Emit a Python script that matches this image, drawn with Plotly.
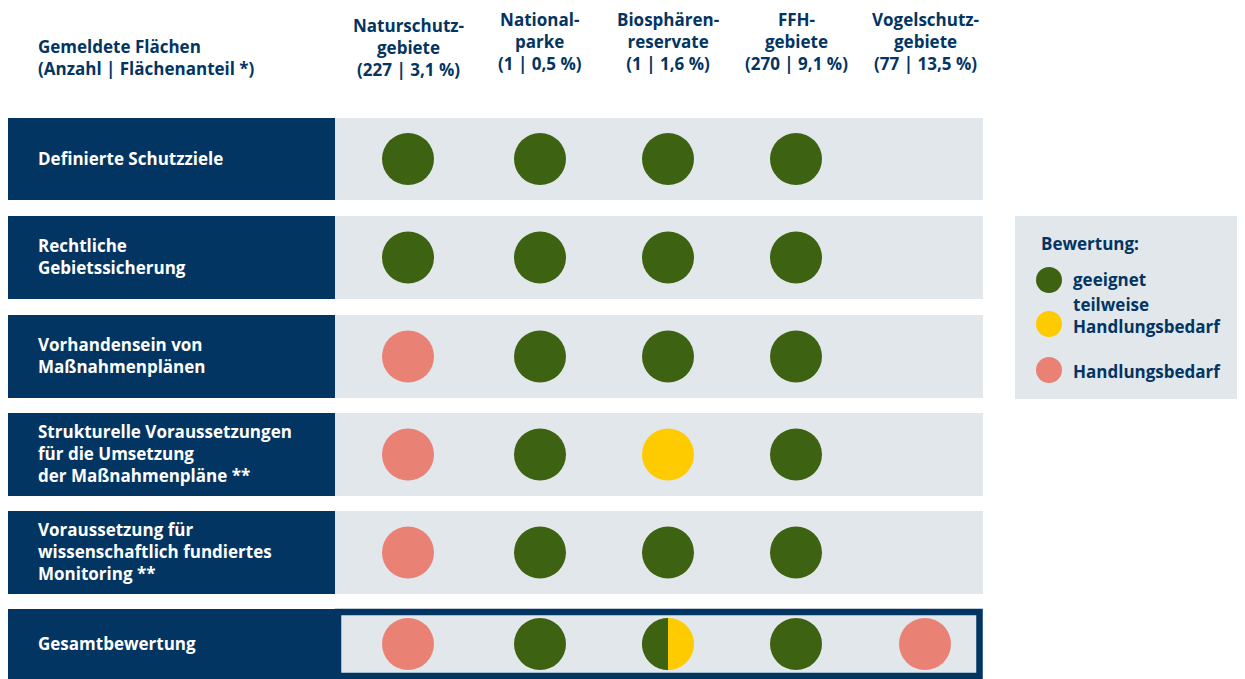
import numpy as np
import plotly.graph_objects as go

# ---------------- data ----------------
area_types = ["Naturschutz-<br>gebiete<br>(227 | 3,1 %)",
              "National-<br>parke<br>(1 | 0,5 %)",
              "Biosphären-<br>reservate<br>(1 | 1,6 %)",
              "FFH-<br>gebiete<br>(270 | 9,1 %)",
              "Vogelschutz-<br>gebiete<br>(77 | 13,5 %)"]
criteria = ["Definierte Schutzziele",
            "Rechtliche<br>Gebietssicherung",
            "Vorhandensein von<br>Maßnahmenplänen",
            "Strukturelle Voraussetzungen<br>für die Umsetzung<br>der Maßnahmenpläne **",
            "Voraussetzung für<br>wissenschaftlich fundiertes<br>Monitoring **",
            "Gesamtbewertung"]
# G = geeignet, T = teilweise Handlungsbedarf, H = Handlungsbedarf, GT = halb/halb, "" = keine Bewertung
rating_naturschutz = ["G", "G", "H", "H", "H", "H"]
rating_nationalpark = ["G", "G", "G", "G", "G", "G"]
rating_biosphaere = ["G", "G", "G", "T", "G", "GT"]
rating_ffh = ["G", "G", "G", "G", "G", "G"]
rating_vogelschutz = ["", "", "", "", "", "H"]
legend_labels = ["geeignet", "teilweise<br>Handlungsbedarf", "Handlungsbedarf"]
header_left = "Gemeldete Flächen<br>(Anzahl | Flächenanteil *)"

# ---------------- styles / layout ----------------
NAVY = "#033562"
GREY = "#e2e7ec"
GREEN = "#3d6312"
YELLOW = "#fecb00"
PINK = "#ea8175"
COLORS = {"G": GREEN, "T": YELLOW, "H": PINK}
FONT = "Open Sans"
FS = 17
W, H = 1245, 679
OFF = 8  # default page margin of the html body

col_x = [408, 540, 668, 796, 925]
row_top = [118, 216, 315, 413, 511, 609]
row_bot = [200, 299, 398, 496, 594, 679]
row_c = [(a + b) / 2 for a, b in zip(row_top, row_bot)]
label_x0, label_x1, bar_x1 = 7, 335, 983
DOT = 52
TEXT_X = 36

ratings = [rating_naturschutz, rating_nationalpark, rating_biosphaere, rating_ffh, rating_vogelschutz]

fig = go.Figure()
shapes = []
annotations = []

for i, crit in enumerate(criteria):
    shapes.append(dict(type="rect", xref="x", yref="y", x0=label_x0, x1=label_x1,
                       y0=row_top[i], y1=row_bot[i], fillcolor=NAVY, line=dict(width=0), layer="below"))
    if i < len(criteria) - 1:
        shapes.append(dict(type="rect", xref="x", yref="y", x0=label_x1, x1=bar_x1,
                           y0=row_top[i], y1=row_bot[i], fillcolor=GREY, line=dict(width=0), layer="below"))
    else:
        shapes.append(dict(type="rect", xref="x", yref="y", x0=label_x1 + 3, x1=bar_x1 - 3.5,
                           y0=row_top[i] + 3, y1=row_bot[i] - 3, fillcolor=GREY,
                           line=dict(width=6.5, color=NAVY), layer="below"))
    annotations.append(dict(x=TEXT_X, y=row_c[i] - 1, xref="x", yref="y", text=crit, showarrow=False,
                            xanchor="left", yanchor="middle", align="left",
                            font=dict(family=FONT, size=FS, color="white", weight="bold")))

# header
annotations.append(dict(x=TEXT_X, y=57, xref="x", yref="y", text=header_left, showarrow=False,
                        xanchor="left", yanchor="middle", align="left",
                        font=dict(family=FONT, size=FS, color=NAVY, weight="bold")))
for j, name in enumerate(area_types):
    annotations.append(dict(x=col_x[j], y=47 if j == 0 else 41, xref="x", yref="y", text=name,
                            showarrow=False, xanchor="center", yanchor="middle", align="center",
                            font=dict(family=FONT, size=FS, color=NAVY, weight="bold")))

# dots
for code in ["G", "T", "H"]:
    xs, ys = [], []
    for j, col in enumerate(ratings):
        for i, r in enumerate(col):
            if r == code:
                xs.append(col_x[j]); ys.append(row_c[i])
    fig.add_trace(go.Scatter(x=xs, y=ys, mode="markers", showlegend=False, hoverinfo="skip",
                             marker=dict(size=DOT, color=COLORS[code], line=dict(width=0))))

# split dot(s)
theta = np.linspace(-np.pi / 2, np.pi / 2, 60)
for j, col in enumerate(ratings):
    for i, r in enumerate(col):
        if r == "GT":
            cx, cy, rad = col_x[j], row_c[i], DOT / 2
            fig.add_trace(go.Scatter(x=list(cx + rad * np.cos(theta)), y=list(cy + rad * np.sin(theta)),
                                     fill="toself", fillcolor=YELLOW, mode="none",
                                     showlegend=False, hoverinfo="skip"))
            fig.add_trace(go.Scatter(x=list(cx - rad * np.cos(theta)), y=list(cy + rad * np.sin(theta)),
                                     fill="toself", fillcolor=GREEN, mode="none",
                                     showlegend=False, hoverinfo="skip"))

# legend box
shapes.append(dict(type="rect", xref="x", yref="y", x0=1015, x1=1260, y0=216, y1=399,
                   fillcolor=GREY, line=dict(width=0), layer="below"))
annotations.append(dict(x=1039, y=243, xref="x", yref="y", text="Bewertung:", showarrow=False,
                        xanchor="left", yanchor="middle",
                        font=dict(family=FONT, size=FS, color=NAVY, weight="bold")))
leg_y = [279, 315, 371]
dot_y = [280, 324, 370]
for k, (lab, code) in enumerate(zip(legend_labels, ["G", "T", "H"])):
    fig.add_trace(go.Scatter(x=[1049], y=[dot_y[k]], mode="markers", showlegend=False, hoverinfo="skip",
                             marker=dict(size=26, color=COLORS[code], line=dict(width=0))))
    annotations.append(dict(x=1071, y=leg_y[k], xref="x", yref="y", text=lab, showarrow=False,
                            xanchor="left", yanchor="middle", align="left",
                            font=dict(family=FONT, size=FS, color=NAVY, weight="bold")))

fig.update_layout(width=W - OFF, height=H - OFF, margin=dict(l=0, r=0, t=0, b=0),
                  paper_bgcolor="white", plot_bgcolor="white",
                  xaxis=dict(range=[OFF, W], visible=False, fixedrange=True),
                  yaxis=dict(range=[H, OFF], visible=False, fixedrange=True),
                  shapes=shapes, annotations=annotations)
fig.write_html("out.html", config={"displayModeBar": False})
